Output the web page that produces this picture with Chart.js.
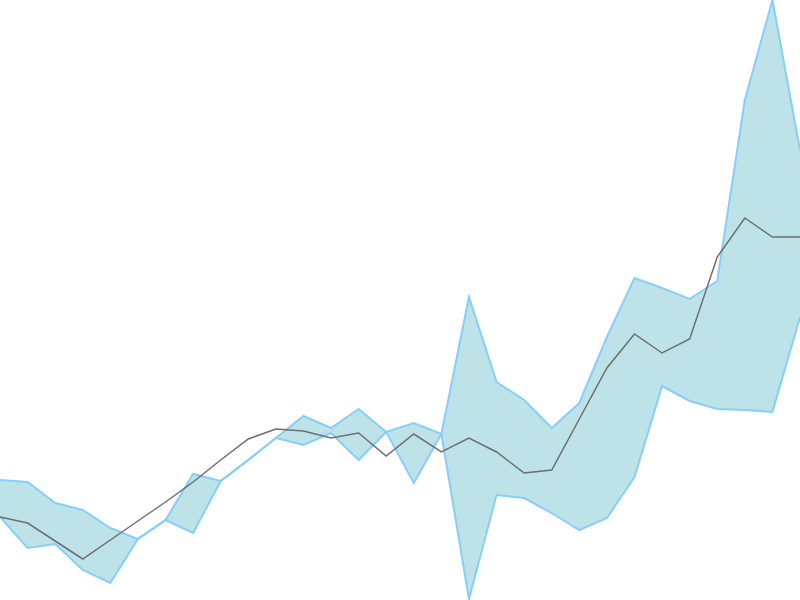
<!DOCTYPE html>
<html>
<head>
<meta charset="utf-8">
<script src="https://cdn.jsdelivr.net/npm/chart.js@4/dist/chart.umd.min.js"></script>
<style>
  html, body { margin: 0; padding: 0; background: #fff; }
  #wrap { width: 800px; height: 600px; position: relative; }
</style>
</head>
<body>
<div id="wrap"><canvas id="chart"></canvas></div>
<script>
// ── Data ──────────────────────────────────────────────────────────
const labels = Array.from({ length: 30 }, (_, i) => String(i + 1));

// band edges (they cross over in places)
const bandA = [120, 118, 97, 90, 72, 61, 80, 126, 119, 140,
               162, 184, 172, 191, 168, 177, 166, 303, 218, 200,
               172, 197, 263, 322, 312, 301, 319, 500, 600, 450];
const bandB = [83, 52, 56, 30, 17, 61, 80, 67, 119, 140,
               162, 155, 167, 140, 168, 117, 166, 1, 105, 102,
               87, 70, 82, 123, 214, 199, 191, 190, 188, 283];

// middle line
const mid = [83, 77, 59, 41, 60, 79, 98, 118, 140, 161,
             171, 169, 162, 167, 144, 166, 148, 162, 148, 127,
             130, 181, 232, 266, 247, 261, 343, 382, 363, 363];

// ── Chart ─────────────────────────────────────────────────────────
new Chart(document.getElementById("chart"), {
  type: "line",
  data: {
    labels,
    datasets: [
      {
        label: "mid",
        data: mid,
        borderColor: "#6e6e6e",
        borderWidth: 1.5,
        pointRadius: 0,
        fill: false,
        tension: 0,
        order: 0,
      },
      {
        label: "A",
        data: bandA,
        borderColor: "#87cefa",
        borderWidth: 2,
        pointRadius: 0,
        fill: false,
        tension: 0,
        order: 1,
      },
      {
        label: "B",
        data: bandB,
        borderColor: "#87cefa",
        borderWidth: 2,
        pointRadius: 0,
        backgroundColor: "#bde3e8",
        fill: "-1",
        tension: 0,
        order: 1,
      },
    ]
  },
  options: {
    responsive: true, maintainAspectRatio: false,
    animation: false,
    layout: { padding: 0 },
    plugins: { legend: { display: false }, tooltip: { enabled: false } },
    scales: {
      x: { display: false, offset: false },
      y: { display: false, min: 0, max: 600 }
    }
  }
});
</script>
</body>
</html>
